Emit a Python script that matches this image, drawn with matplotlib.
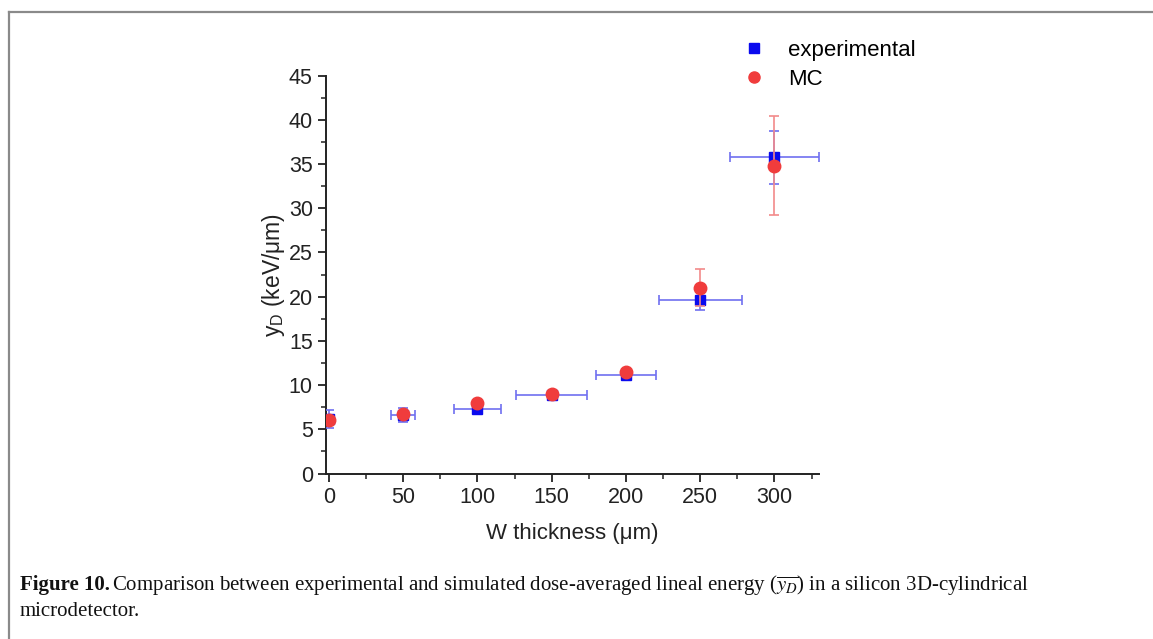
import matplotlib
matplotlib.use("Agg")
import matplotlib.pyplot as plt
from matplotlib.lines import Line2D

# ---- data ----
thickness = [0, 50, 100, 150, 200, 250, 300]
exp_y = [6.2, 6.65, 7.3, 8.9, 11.1, 19.6, 35.8]
exp_yerr = [1.0, 0.8, 0.3, 0.3, 0.4, 1.1, 3.0]
exp_xerr = [0, 8, 16, 24, 20, 28, 30]
mc_y = [6.0, 6.7, 8.0, 9.0, 11.5, 21.0, 34.8]
mc_yerr = [0.3, 0.3, 0.3, 0.3, 0.3, 2.1, 5.6]
xticks = [0, 50, 100, 150, 200, 250, 300]
yticks = [0, 5, 10, 15, 20, 25, 30, 35, 40, 45]

W, H = 1153, 639
plt.rcParams['font.family'] = ['Liberation Sans', 'DejaVu Sans']
plt.rcParams['mathtext.default'] = 'regular'

fig = plt.figure(figsize=(W / 100, H / 100), dpi=100)
ax = fig.add_axes([326 / W, 1 - 473.5 / H, (819 - 326) / W, (473.5 - 75.7) / H])

blue = '#0a0aee'
blue_err = '#7070f0'
red = '#f03c3c'
red_err = '#f28a8a'

ax.errorbar(thickness, exp_y, yerr=exp_yerr, xerr=exp_xerr, fmt='s', ms=7.5,
            color=blue, ecolor=blue_err, elinewidth=1.2, capsize=3.5, capthick=1.2,
            zorder=3)
ax.errorbar(thickness, mc_y, yerr=mc_yerr, fmt='o', ms=9,
            color=red, ecolor=red_err, elinewidth=1.2, capsize=3.5, capthick=1.2,
            zorder=4)

ax.set_xlim(-2, 330)
ax.set_ylim(0, 45)
ax.set_xticks(xticks)
ax.set_yticks(yticks)
ax.set_xticks([25 + 50 * i for i in range(7)], minor=True)
ax.set_yticks([2.5 + 5 * i for i in range(9)], minor=True)
ax.tick_params(axis='both', which='major', direction='out', length=6, width=1.3,
               labelsize=15.5, color='#222222', labelcolor='#222222')
ax.tick_params(axis='both', which='minor', direction='out', length=3.5, width=1.1,
               color='#222222')
for s in ['top', 'right']:
    ax.spines[s].set_visible(False)
for s in ['left', 'bottom']:
    ax.spines[s].set_linewidth(1.4)
    ax.spines[s].set_color('#222222')

ax.set_xlabel('W thickness (μm)', fontsize=16, color='#222222', labelpad=11)
ax.set_ylabel('y$_D$ (keV/μm)', fontsize=16.5, color='#222222', labelpad=1)

handles = [Line2D([], [], marker='s', ls='none', color=blue, ms=7),
           Line2D([], [], marker='o', ls='none', color=red, ms=8)]
ax.legend(handles, ['experimental', 'MC'], loc='upper left',
          bbox_to_anchor=(726 / W, 1 - 29 / H), bbox_transform=fig.transFigure,
          frameon=False, fontsize=16, handletextpad=0.8, labelspacing=0.35,
          borderpad=0, handlelength=1.5)

# frame lines
fig.add_artist(Line2D([9 / W, 9 / W], [0, 1 - 12 / H], color='#8a8a8a', lw=1.6,
                      transform=fig.transFigure))
fig.add_artist(Line2D([9 / W, 1], [1 - 12 / H, 1 - 12 / H], color='#8a8a8a', lw=1.6,
                      transform=fig.transFigure))

# caption
plt.rcParams['mathtext.fontset'] = 'stix'
cap_font = dict(family=['Liberation Serif', 'DejaVu Serif'], fontsize=15, color='#111111')
t1 = fig.text(20 / W, 1 - 590 / H, 'Figure 10.', fontweight='bold', va='baseline', **cap_font)
fig.canvas.draw()
bb = t1.get_window_extent()
fig.text((bb.x1 + 2) / W, 1 - 590 / H,
         r'Comparison between experimental and simulated dose-averaged lineal energy $(\overline{\mathit{y}_{\mathit{D}}})$ in a silicon 3D-cylindrical',
         va='baseline', **cap_font)
fig.text(20 / W, 1 - 616 / H, 'microdetector.', va='baseline', **cap_font)

fig.savefig('out.png', dpi=100)
